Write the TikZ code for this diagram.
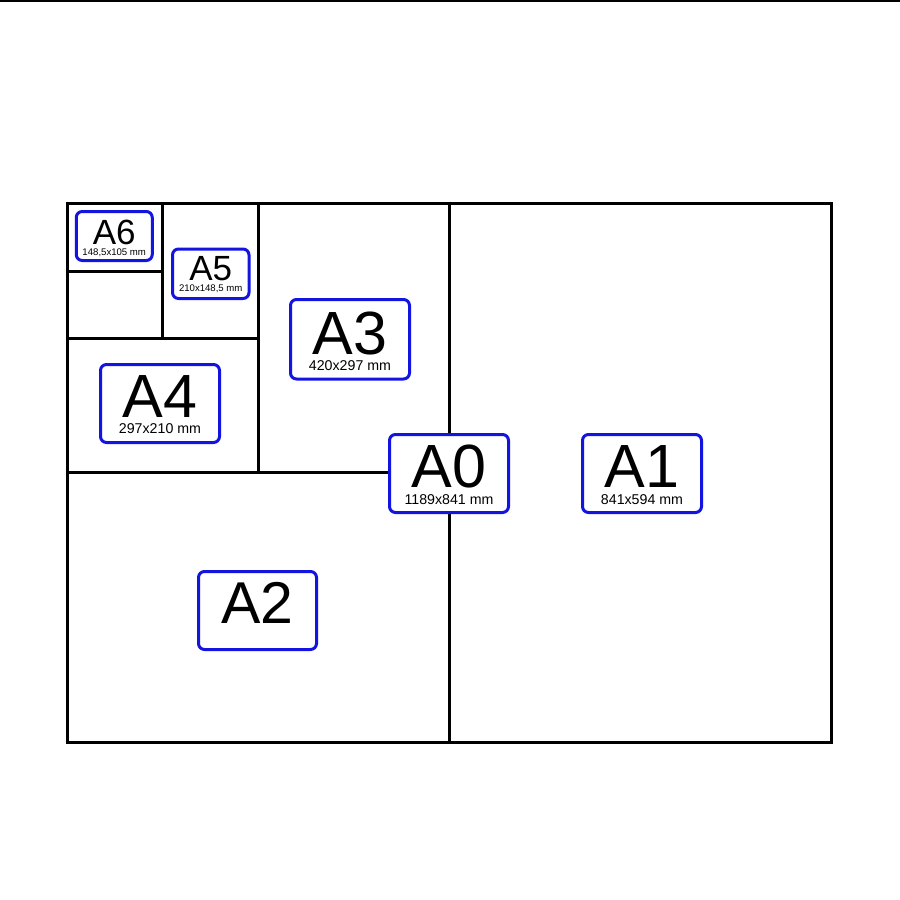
\documentclass[tikz,border=0pt]{standalone}
\usepackage{fontspec}
\setmainfont{Liberation Sans}
\definecolor{boxblue}{RGB}{20,20,225}
\tikzset{
  frameline/.style={line width=3pt, black},
  sizebox/.style={draw=boxblue, line width=3pt, rounded corners=6pt, fill=white, inner sep=0pt},
  bigbox/.style={sizebox, minimum width=119pt, minimum height=78pt},
  smallbox/.style={sizebox, minimum width=76pt, minimum height=49pt},
  bigname/.style={anchor=base, inner sep=0pt, text depth=0pt, text height=0.72em, font=\fontsize{61}{61}\selectfont},
  smallname/.style={anchor=base, inner sep=0pt, text depth=0pt, text height=0.72em, font=\fontsize{35}{35}\selectfont},
  bigdim/.style={anchor=base, inner sep=0pt, text depth=0pt, text height=0.72em, font=\fontsize{14.2}{14.2}\selectfont},
  smalldim/.style={anchor=base, inner sep=0pt, text depth=0pt, text height=0.72em, font=\fontsize{9.6}{9.6}\selectfont}
}
\begin{document}
\begin{tikzpicture}[x=1pt,y=-1pt]
\useasboundingbox (0,0) rectangle (900,900);
\fill[white] (0,0) rectangle (900,900);
% top edge line
\draw[line width=2.5pt] (0,1) -- (900,1);
% sheets
\draw[frameline] (67,203.5) rectangle (831.5,742.5);
\draw[frameline] (449,203.5) -- (449,742.5);
\draw[frameline] (67,472) -- (449,472);
\draw[frameline] (258,203.5) -- (258,472);
\draw[frameline] (67,338) -- (258,338);
\draw[frameline] (162,203.5) -- (162,338);
\draw[frameline] (67,271) -- (162,271);
% labels
\node[smallbox] (a6) at (114.25,236) {};
\node[smallname, yshift=-8pt] (a6n) at (a6.center) {A6};
\node[smalldim, yshift=-19pt] (a6d) at (a6.center) {148,5x105 mm};
\node[smallbox, minimum width=76.5pt, minimum height=49.5pt] (a5) at (210.75,273.75) {};
\node[smallname, yshift=-7pt] (a5n) at (a5.center) {A5};
\node[smalldim, yshift=-18pt] (a5d) at (a5.center) {210x148,5 mm};
\node[bigbox] (a4) at (160,403.5) {};
\node[bigname, yshift=-13.5pt] (a4n) at (a4.center) {A4};
\node[bigdim, yshift=-29.5pt] (a4d) at (a4.center) {297x210 mm};
\node[bigbox, minimum height=79.5pt] (a3) at (350,339.25) {};
\node[bigname, yshift=-15.5pt] (a3n) at (a3.center) {A3};
\node[bigdim, yshift=-31.5pt] (a3d) at (a3.center) {420x297 mm};
\node[bigbox] (a0) at (449,473.5) {};
\node[bigname, yshift=-13.5pt] (a0n) at (a0.center) {A0};
\node[bigdim, yshift=-30.5pt] (a0d) at (a0.center) {1189x841 mm};
\node[bigbox] (a1) at (642,473.5) {};
\node[bigname, yshift=-13.5pt] (a1n) at (a1.center) {A1};
\node[bigdim, yshift=-30.5pt] (a1d) at (a1.center) {841x594 mm};
\node[bigbox, minimum width=118pt] (a2) at (257.5,610.5) {};
\node[bigname, font=\fontsize{59}{59}\selectfont, yshift=-12.5pt] (a2n) at (a2.center) {A2};
\end{tikzpicture}
\end{document}
